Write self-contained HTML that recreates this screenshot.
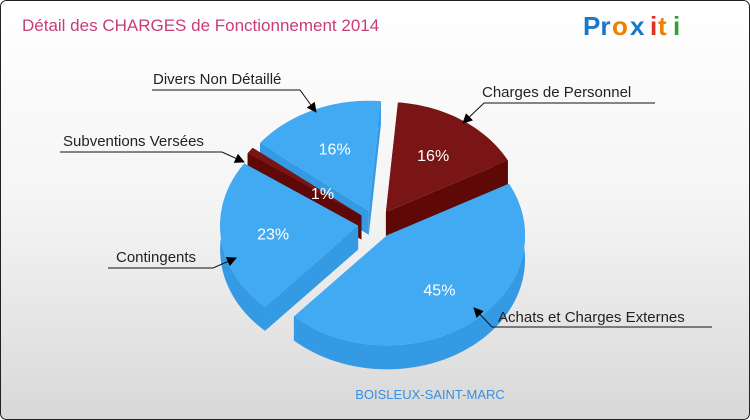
<!DOCTYPE html>
<html><head><meta charset="utf-8"><style>
body{margin:0;background:#fff}
#wrap{position:relative;width:750px;height:420px;overflow:hidden}
svg{position:absolute;left:0;top:0}
text{font-family:"Liberation Sans",sans-serif}
</style></head><body>
<div id="wrap">
<svg id="s" width="750" height="420">
<defs><linearGradient id="bg" x1="0" y1="0" x2="0" y2="1"><stop offset="0" stop-color="#ffffff"/><stop offset="0.5" stop-color="#f4f4f4"/><stop offset="1" stop-color="#d8d8d8"/></linearGradient>
<marker id="ar" markerWidth="10" markerHeight="10" refX="9" refY="5" orient="auto" markerUnits="userSpaceOnUse"><path d="M0,0 L10,5 L0,10 z" fill="#000"/></marker></defs>
<rect x="0.5" y="0.5" width="749" height="419" rx="6" fill="url(#bg)" stroke="#222"/>
<text x="22" y="31" font-size="17" fill="#c83c78">Détail des CHARGES de Fonctionnement 2014</text>
<g font-size="26" font-weight="bold" font-family="Liberation Sans">
<text x="583" y="35" fill="#1a78c8">Pr</text><text x="612" y="35" fill="#f08000">o</text><text x="630" y="35" fill="#1a78c8">x</text><text x="650" y="35" fill="#e03020">i</text><text x="658" y="35" fill="#f08000">t</text><text x="673" y="35" fill="#30a030">i</text></g>
<g id="pie"></g>
<g id="labels"></g>
<text x="430" y="399" font-size="13" fill="#3a8ee0" text-anchor="middle">BOISLEUX-SAINT-MARC</text>
</svg></div>
<script>
const categories=["Charges de Personnel","Achats et Charges Externes","Contingents","Subventions Versées","Divers Non Détaillé"];
const values=[16,45,23,1,16];
const colorsTop=["#7a1515","#42aaf2","#42aaf2","#7a1515","#42aaf2"];
const colorsSide=["#5e0808","#359ae4","#359ae4","#5e0808","#359ae4"];
const labelText=["16%","45%","23%","1%","16%"];
const cx=376,cy=224,rx=138,ry=110,depth=24,expl=18,startDeg=5;
const NS="http://www.w3.org/2000/svg";
const pie=document.getElementById('pie');
const tot=values.reduce((a,b)=>a+b,0);
function pt(ox,oy,a,dy){return [ox+rx*Math.sin(a),oy-ry*Math.cos(a)+(dy||0)];}
function mk(tag,attrs){const e=document.createElementNS(NS,tag);for(const k in attrs)e.setAttribute(k,attrs[k]);return e;}
let acc=0;const sl=[];
values.forEach((v,i)=>{const a0=(startDeg+acc/tot*360)*Math.PI/180;acc+=v;const a1=(startDeg+acc/tot*360)*Math.PI/180;
 const m=(a0+a1)/2;const ox=cx+expl*Math.sin(m),oy=cy-expl*Math.cos(m)*ry/rx;sl.push({i,a0,a1,m,ox,oy});});
const order=sl.slice().sort((p,q)=>(-Math.cos(p.m))-(-Math.cos(q.m)));
order.forEach(s=>{
 const g=mk('g',{});
 
 
 const n=Math.max(4,Math.ceil((s.a1-s.a0)/0.03));const top=[],bot=[];
 for(let k=0;k<=n;k++){const a=s.a0+(s.a1-s.a0)*k/n;top.push(pt(s.ox,s.oy,a));bot.push(pt(s.ox,s.oy,a,depth));}
 const c=[s.ox,s.oy],cb=[s.ox,s.oy+depth];
 const wall=[top[0],bot[0],cb,c];const wall2=[top[n],bot[n],cb,c];
 [wall,wall2].forEach(w=>g.appendChild(mk('path',{d:'M'+w.map(p=>p.join(',')).join('L')+'Z',fill:colorsSide[s.i]})));
 const outer=top.concat(bot.slice().reverse());
 g.appendChild(mk('path',{d:'M'+outer.map(p=>p.join(',')).join('L')+'Z',fill:colorsSide[s.i]}));
 g.appendChild(mk('path',{d:'M'+c.join(',')+'L'+top.map(p=>p.join(',')).join('L')+'Z',fill:colorsTop[s.i]}));
 pie.appendChild(g);
});
sl.forEach(s=>{const r=s.i==3?0.35:0.62;const t=mk('text',{x:s.ox+rx*r*Math.sin(s.m),y:s.oy-ry*r*Math.cos(s.m)+6,'font-size':16,fill:'#fff','text-anchor':'middle'});
 t.textContent=labelText[s.i];
 
 
 pie.appendChild(t);});
const L=document.getElementById('labels');
const callouts=[
 {t:categories[4],tx:153,ty:84,line:"M152,90 L300,90 L316,112",anchor:"start"},
 {t:categories[0],tx:482,ty:97,line:"M655,103 L484,103 L463,123",anchor:"start"},
 {t:categories[3],tx:63,ty:146,line:"M60,152 L222,152 L244,162",anchor:"start"},
 {t:categories[2],tx:116,ty:262,line:"M108,268 L213,268 L236,258",anchor:"start"},
 {t:categories[1],tx:498,ty:322,line:"M712,327 L492,327 L474,308",anchor:"start"}];
callouts.forEach((c,i)=>{const p=mk('path',{d:c.line,fill:'none',stroke:'#111','stroke-width':1,'marker-end':'url(#ar)'});
 
 
 L.appendChild(p);
 const t=mk('text',{x:c.tx,y:c.ty,'font-size':15,fill:'#222','text-anchor':c.anchor});t.textContent=c.t;
 
 
 L.appendChild(t);});
</script>
</body></html>
